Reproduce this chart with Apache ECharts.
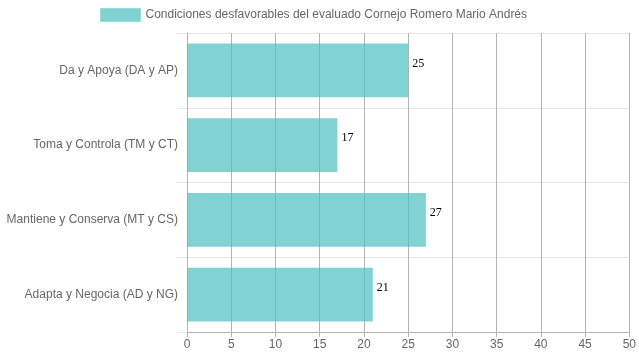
<!DOCTYPE html>
<html><head><meta charset="utf-8">
<script src="https://cdn.jsdelivr.net/npm/echarts@6/dist/echarts.min.js"></script>
<style>html,body{margin:0;padding:0;background:#fff}#c{width:639px;height:360px}</style>
</head><body><div id="c"></div>
<script>
const categories = ["Da y Apoya (DA y AP)", "Toma y Controla (TM y CT)", "Mantiene y Conserva (MT y CS)", "Adapta y Negocia (AD y NG)"];
const values = [25, 17, 27, 21];
const seriesName = "Condiciones desfavorables del evaluado Cornejo Romero Mario Andrés";
const xMin = 0, xMax = 50, xStep = 5;

const chart = echarts.init(document.getElementById('c'), null, {renderer: 'canvas'});
chart.setOption({
  animation: false,
  textStyle: {fontFamily: 'Liberation Sans, Arial, sans-serif'},
  legend: {
    top: 3, left: 95,
    itemWidth: 40, itemHeight: 13, itemGap: 10,
    icon: 'rect',
    textStyle: {color: '#666', fontSize: 12, fontFamily: 'Liberation Sans, Arial, sans-serif'},
    data: [{name: seriesName, itemStyle: {color: 'rgba(75,192,192,0.7)', borderColor: 'rgba(75,192,192,0.35)', borderWidth: 1}}]
  },
  grid: {left: 187, right: 9, top: 33, bottom: 28, containLabel: false},
  xAxis: {
    type: 'value', min: xMin, max: xMax, interval: xStep,
    axisLine: {show: true, lineStyle: {color: '#b4b4b4'}},
    axisTick: {show: true, length: 5, lineStyle: {color: '#b4b4b4'}},
    axisLabel: {color: '#666', fontSize: 12, margin: 7},
    splitLine: {show: true, lineStyle: {color: '#b4b4b4'}}
  },
  yAxis: {
    type: 'category', data: categories, inverse: true,
    axisLine: {show: true, lineStyle: {color: '#b4b4b4'}},
    axisTick: {show: true, length: 10, lineStyle: {color: '#e6e6e6'}},
    axisLabel: {color: '#666', fontSize: 12, margin: 9},
    splitLine: {show: true, lineStyle: {color: '#e6e6e6'}}
  },
  series: [{
    name: seriesName, type: 'bar', data: values,
    barCategoryGap: '28%',
    itemStyle: {color: 'rgba(75,192,192,0.7)'},
    label: {show: true, position: 'right', distance: 4, offset: [0, -7], color: '#000', fontSize: 12, fontFamily: 'Liberation Serif, Times New Roman, serif'}
  }]
});
</script></body></html>
